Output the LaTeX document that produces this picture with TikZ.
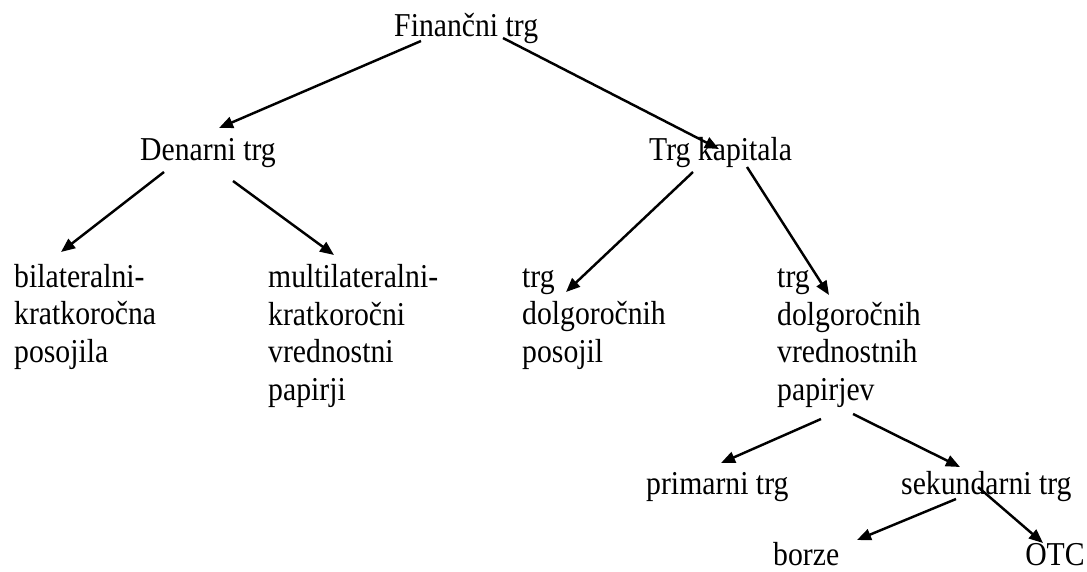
\documentclass[tikz,border=0pt]{standalone}
\usepackage{fontspec}
\setmainfont{Liberation Serif}[FakeStretch=0.89]
\usetikzlibrary{arrows.meta}

\begin{document}
\begin{tikzpicture}[x=0.02cm, y=-0.02cm, >={Triangle[length=8pt,width=6.5pt]}, line width=1.4pt,
		every node/.style={inner sep=0pt, anchor=base west, align=left, font=\fontsize{19pt}{21.3pt}\selectfont}]
	\useasboundingbox (0,0) rectangle (1087,571);
	% 1. 各级市场
	\node (fin) at (393,37) {Finančni trg};
	\node (den) at (139,160) {Denarni trg};
	\node (kap) at (648,160) {Trg kapitala};
	
	% 2. 第三层 (base = 最后一行)
	\node (bil) at (13,362) {bilateralni-\\kratkoročna\\posojila};
	\node (mul) at (267,400) {multilateralni-\\kratkoročni\\vrednostni\\papirji};
	\node (pos) at (521,362) {trg\\dolgoročnih\\posojil};
	\node (vre) at (776,400) {trg\\dolgoročnih\\vrednostnih\\papirjev};
	
	% 3. 二级与一级市场
	\node (pri) at (645,494) {primarni trg};
	\node (sek) at (900,494) {sekundarni trg};
	\node (bor) at (772,565) {borze};
	\node (otc) at (1024,565) {OTC};
	
	% 4. 箭头
	\draw[->] ([shift={(28,4)}]fin.base west) -- ([shift={(80,-32)}]den.base west);
	\draw[->] ([shift={(110,1)}]fin.base west) -- ([shift={(71,-11)}]kap.base west);
	\draw[->] ([shift={(25,12)}]den.base west) -- ([shift={(48,-110)}]bil.base west);
	\draw[->] ([shift={(94,21)}]den.base west) -- ([shift={(67,-145)}]mul.base west);
	\draw[->] ([shift={(45,12)}]kap.base west) -- ([shift={(45,-70)}]pos.base west);
	\draw[->] ([shift={(99,7)}]kap.base west) -- ([shift={(53,-105)}]vre.base west);
	\draw[->] ([shift={(45,19)}]vre.base west) -- ([shift={(76,-31)}]pri.base west);
	\draw[->] ([shift={(77,14)}]vre.base west) -- ([shift={(60,-27)}]sek.base west);
	\draw[->] ([shift={(56,5)}]sek.base west) -- ([shift={(85,-25)}]bor.base west);
	\draw[->] ([shift={(78,-7)}]sek.base west) -- ([shift={(19,-22)}]otc.base west);
\end{tikzpicture}
\end{document}
